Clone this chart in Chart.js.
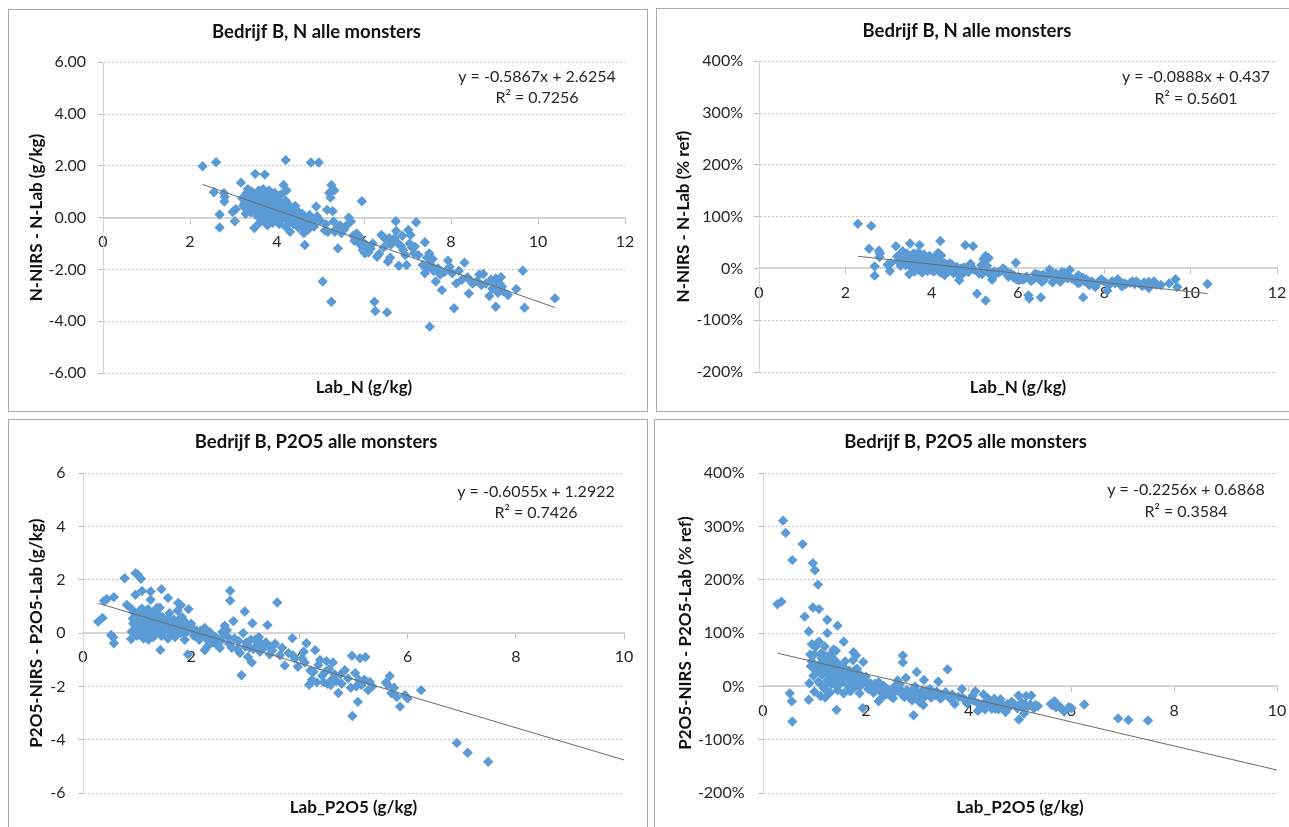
<!DOCTYPE html>
<html>
<head>
<meta charset="utf-8">
<title>Bedrijf B</title>
<script src="https://cdn.jsdelivr.net/npm/chart.js@4.4.1/dist/chart.umd.min.js"></script>
<style>
  html, body { margin: 0; padding: 0; background: #fff; width: 1289px; height: 827px; overflow: hidden; position: relative; }
  .frame { position: absolute; box-sizing: border-box; border: 1px solid #a9a9a9; }
  canvas { position: absolute; }
</style>
</head>
<body>
<div class="frame" style="left:8px;top:9px;width:640px;height:403px"></div>
<div class="frame" style="left:656px;top:8px;width:640px;height:404px"></div>
<div class="frame" style="left:8px;top:419px;width:640px;height:420px"></div>
<div class="frame" style="left:654px;top:419px;width:640px;height:420px"></div>
<canvas id="c1" width="639" height="401" style="left:8px;top:10px;width:639px;height:401px"></canvas>
<canvas id="c2" width="642" height="402" style="left:657px;top:9px;width:642px;height:402px"></canvas>
<canvas id="c3" width="638" height="408" style="left:8px;top:419px;width:638px;height:408px"></canvas>
<canvas id="c4" width="647" height="408" style="left:654px;top:419px;width:647px;height:408px"></canvas>
<script>
// ---------- DATA: N (Lab_N, g/kg) ----------
const labN = [
  2.29,2.60,2.55,2.68,2.68,2.78,2.79,2.80,2.98,3.03,
  3.05,3.17,3.20,3.25,3.27,3.30,3.33,3.35,3.38,3.40,
  3.42,3.45,3.48,3.50,3.50,3.52,3.55,3.55,3.58,3.60,
  3.60,3.62,3.65,3.65,3.68,3.70,3.72,3.72,3.75,3.75,
  3.78,3.78,3.80,3.82,3.85,3.85,3.88,3.90,3.90,3.92,
  3.95,3.95,3.98,4.00,4.00,4.03,4.05,4.05,4.08,4.10,
  4.12,4.15,4.15,4.18,4.20,4.20,4.20,4.22,4.25,4.28,
  4.30,4.30,4.33,4.35,4.38,4.40,4.42,4.45,4.48,4.50,
  4.52,4.55,4.58,4.60,4.62,4.64,4.65,4.68,4.70,4.72,
  4.75,4.78,4.80,4.85,4.90,4.92,4.96,4.98,5.05,5.10,
  5.15,5.17,5.20,5.23,5.25,5.25,5.28,5.30,5.32,5.35,
  5.40,5.45,5.55,5.65,5.70,5.75,5.83,5.88,5.95,5.92,
  5.97,6.02,6.05,6.15,6.24,6.26,6.30,6.35,6.40,6.45,
  6.50,6.53,6.55,6.58,6.60,6.73,6.74,6.78,6.80,6.85,
  6.90,6.98,7.02,7.07,7.10,7.17,7.15,7.20,7.40,7.45,
  7.50,7.52,7.35,7.40,7.45,7.51,7.55,7.60,7.65,7.70,
  7.79,7.85,7.93,7.97,8.03,8.07,8.12,8.25,8.31,8.38,
  8.41,8.50,8.60,8.70,8.74,8.80,8.88,8.92,8.95,9.03,
  9.03,9.08,9.12,9.17,9.20,9.31,9.50,9.65,9.69,10.39,
  3.22,3.28,3.36,3.44,3.46,3.53,3.57,3.63,3.67,3.71,
  3.74,3.77,3.81,3.84,3.87,3.93,3.96,4.02,4.06,4.09,
  4.13,4.17,4.24,4.27,4.32,4.37,4.41,4.46,4.51,4.57,
  4.63,4.67,4.73,4.83,4.88,5.12,5.33,5.48,5.60,5.78,
  5.90,6.00,6.10,6.20,6.45,6.62,6.70,6.88,6.95,7.05,
  7.25,7.58,7.75,8.18,8.45,8.65,9.00,9.15
];
// N-NIRS - N-Lab (g/kg)
const diffN = [
  1.98,2.14,0.98,0.12,-0.38,0.94,0.62,0.80,0.22,-0.14,
  0.32,1.35,0.75,0.55,0.40,0.95,1.10,0.85,0.70,0.20,
  1.00,0.50,-0.40,1.69,0.30,0.85,0.05,0.65,1.05,-0.20,
  0.40,0.90,0.15,0.60,1.10,-0.10,1.66,0.35,0.75,1.00,
  -0.30,0.20,0.55,1.05,0.00,0.40,0.80,-0.20,0.25,0.60,
  0.10,0.95,-0.10,0.35,0.70,0.05,-0.25,0.50,0.20,0.90,
  -0.05,1.26,0.40,0.10,2.22,-0.35,0.65,1.05,0.25,-0.15,
  0.45,-0.55,0.05,0.30,-0.25,0.10,0.45,-0.10,0.25,-0.40,
  0.05,-0.20,0.15,-0.05,-0.60,-1.06,-0.30,0.00,-0.20,-0.45,
  0.10,2.13,-0.15,-0.35,0.43,0.05,2.13,-0.10,-2.47,-0.50,
  0.30,-0.55,0.95,0.77,1.26,-3.25,0.25,-0.15,1.05,-0.45,
  -1.19,-0.30,-0.45,0.00,-0.15,-0.70,-0.61,-0.95,0.63,-1.05,
  -1.25,-1.38,-1.10,-1.20,-3.25,-3.61,-1.51,-1.40,-0.67,-0.75,
  -0.85,-3.66,-1.70,-0.80,-1.55,-0.14,-0.52,-0.99,-1.86,-1.10,
  -1.25,-1.83,-0.48,-0.67,-1.15,-1.12,-1.38,-0.18,-0.95,-1.55,
  -1.38,-1.65,-1.83,-2.15,-1.95,-4.21,-1.85,-2.05,-2.47,-1.95,
  -2.80,-2.10,-1.66,-1.90,-2.15,-3.50,-2.54,-2.40,-1.74,-2.30,
  -2.93,-2.55,-2.45,-2.60,-2.18,-2.55,-3.03,-2.40,-2.75,-2.35,
  -3.44,-2.90,-2.55,-2.67,-2.85,-2.99,-2.76,-2.05,-3.48,-3.12,
  0.45,0.15,0.60,0.30,0.80,0.45,0.25,0.75,0.45,0.05,
  0.55,0.90,0.30,0.65,0.15,0.40,0.75,0.20,0.85,-0.10,
  0.55,0.25,0.45,0.00,0.20,-0.10,0.30,0.05,-0.25,0.00,
  -0.20,-0.45,-0.10,-0.25,-0.05,-0.25,-0.55,-0.60,-0.30,-0.90,
  -0.75,-1.00,-1.35,-1.00,-1.15,-1.05,-0.80,-0.70,-1.45,-1.00,
  -1.45,-1.60,-2.20,-2.05,-2.45,-2.20,-2.65,-2.30
];
// N-NIRS - N-Lab (% ref), as fractions
const pctN = [
  0.86,0.82,0.38,0.04,-0.14,0.34,0.22,0.29,0.07,-0.05,
  0.10,0.43,0.23,0.17,0.12,0.29,0.33,0.25,0.21,0.06,
  0.29,0.14,-0.11,0.48,0.09,0.24,0.01,0.18,0.29,-0.06,
  0.11,0.25,0.04,0.16,0.30,-0.03,0.45,0.09,0.20,0.27,
  -0.08,0.05,0.14,0.27,0.00,0.10,0.21,-0.05,0.06,0.15,
  0.03,0.24,-0.03,0.09,0.18,0.01,-0.06,0.12,0.05,0.22,
  -0.01,0.30,0.10,0.02,0.53,-0.08,0.15,0.25,0.06,-0.04,
  0.10,-0.13,0.01,0.07,-0.06,0.02,0.10,-0.02,0.06,-0.09,
  0.01,-0.04,0.03,-0.01,-0.13,-0.23,-0.06,0.00,-0.04,-0.10,
  0.02,0.45,-0.03,-0.07,0.09,0.01,0.43,-0.02,-0.49,-0.10,
  0.06,-0.11,0.18,0.15,0.24,-0.62,0.05,-0.03,0.20,-0.08,
  -0.22,-0.06,-0.08,0.00,-0.03,-0.12,-0.10,-0.16,0.11,-0.18,
  -0.21,-0.23,-0.18,-0.20,-0.52,-0.58,-0.24,-0.22,-0.10,-0.12,
  -0.13,-0.56,-0.26,-0.12,-0.23,-0.02,-0.08,-0.15,-0.27,-0.16,
  -0.18,-0.26,-0.07,-0.09,-0.16,-0.16,-0.19,-0.03,-0.13,-0.21,
  -0.18,-0.22,-0.25,-0.29,-0.26,-0.56,-0.25,-0.27,-0.32,-0.25,
  -0.36,-0.27,-0.21,-0.24,-0.27,-0.43,-0.31,-0.29,-0.21,-0.27,
  -0.35,-0.30,-0.28,-0.30,-0.25,-0.29,-0.34,-0.27,-0.31,-0.26,
  -0.38,-0.32,-0.28,-0.29,-0.31,-0.32,-0.29,-0.21,-0.36,-0.30,
  0.14,0.05,0.18,0.09,0.23,0.13,0.07,0.21,0.12,0.01,
  0.15,0.24,0.08,0.17,0.04,0.10,0.19,0.05,0.21,-0.02,
  0.13,0.06,0.11,0.00,0.05,-0.02,0.07,0.01,-0.06,0.00,
  -0.04,-0.10,-0.02,-0.05,-0.01,-0.05,-0.10,-0.11,-0.05,-0.16,
  -0.13,-0.17,-0.22,-0.16,-0.18,-0.16,-0.12,-0.10,-0.21,-0.14,
  -0.20,-0.21,-0.28,-0.25,-0.29,-0.25,-0.29,-0.25
];

// ---------- DATA: P2O5 (Lab_P2O5, g/kg) ----------
const labP = [
  0.28,0.36,0.39,0.44,0.57,0.52,0.56,0.57,0.77,0.97,
  1.01,1.07,0.81,0.89,0.97,1.09,1.25,1.45,1.25,1.09,
  1.57,1.37,0.93,1.81,1.76,0.89,1.43,1.21,1.94,0.95,
  0.90,0.95,1.00,1.00,1.03,1.05,1.08,1.10,1.12,1.13,
  1.15,1.18,1.20,1.20,1.23,1.25,1.27,1.30,1.30,1.32,
  1.35,1.37,1.40,1.40,1.42,1.45,1.47,1.50,1.52,1.55,
  1.57,1.60,1.62,1.65,1.68,1.70,1.72,1.75,1.78,1.80,
  1.83,1.85,1.88,1.90,1.92,1.95,1.98,2.05,2.10,2.15,
  2.20,2.25,2.29,2.25,2.30,2.40,2.45,2.53,2.55,2.60,
  2.66,2.70,2.72,2.72,2.78,2.80,2.85,2.90,2.93,2.96,
  2.99,3.02,3.05,3.08,3.12,3.13,3.18,3.22,3.27,3.30,
  3.35,3.41,3.46,3.50,3.59,3.64,3.73,3.80,3.87,3.88,
  3.97,4.05,4.13,4.18,4.20,4.23,4.29,4.35,4.38,4.42,
  4.45,4.50,4.55,4.60,4.65,4.72,4.78,4.84,4.90,4.97,
  4.98,5.03,5.08,5.12,5.15,5.20,5.27,5.30,5.63,5.67,
  5.70,5.75,5.86,5.95,6.00,6.25,6.91,7.11,7.49,
  2.03,2.35,2.62,3.15,3.55,4.08,4.52,4.62,5.05,5.22,
  0.92,0.98,1.02,1.06,1.11,1.14,1.17,1.19,1.22,1.24,
  1.28,1.31,1.33,1.36,1.39,1.41,1.44,1.48,1.51,1.54,
  1.58,1.61,1.64,1.67,1.71,1.74,1.79,1.82,1.87,1.93,
  2.00,2.08,2.18,2.32,2.48,2.58,2.68,2.75,2.88,3.00,
  3.10,3.25,3.38,3.45,3.68,3.92,4.10,4.26,4.32,4.48,
  4.58,4.68,4.76,4.95,5.10,5.35,5.60,5.80
];
// P2O5-NIRS - P2O5-Lab (g/kg)
const diffP = [
  0.43,0.57,1.21,1.27,1.35,-0.07,-0.16,-0.38,2.06,2.25,
  2.20,2.04,1.06,0.92,1.44,1.58,1.56,1.65,1.25,0.92,
  1.32,0.95,0.35,1.05,1.13,-0.22,-0.63,-0.25,-0.80,0.75,
  0.05,0.45,-0.10,0.60,0.30,0.85,0.10,0.45,-0.20,0.70,
  0.25,0.55,0.00,0.90,0.35,0.15,0.65,-0.15,0.45,0.80,
  0.20,0.55,0.05,0.35,0.95,-0.10,0.60,0.25,0.10,0.45,
  -0.20,0.75,0.30,0.05,0.50,-0.15,0.20,0.85,0.35,0.00,
  0.60,0.15,-0.25,0.40,0.05,0.90,0.25,-0.10,0.10,-0.25,
  -0.05,0.19,-0.19,-0.64,-0.50,-0.35,-0.15,-0.56,-0.30,-0.05,
  0.11,-0.40,1.59,1.22,0.45,-0.20,-0.60,-0.75,-1.58,0.00,
  0.81,-0.35,-0.90,-0.55,-1.10,0.37,-0.25,-0.45,-0.70,-0.40,
  -0.55,0.30,-0.51,-0.65,1.15,-0.83,-1.22,-0.75,-0.19,-0.83,
  -1.26,-0.95,-0.38,-1.94,-1.40,-1.75,-0.64,-1.20,-1.01,-1.60,
  -1.85,-1.05,-1.35,-1.75,-1.55,-2.25,-1.90,-1.39,-1.70,-0.85,
  -3.11,-1.50,-2.58,-0.94,-1.95,-1.75,-2.14,-1.83,-1.95,-1.61,
  -2.25,-2.05,-2.76,-2.33,-2.45,-2.14,-4.12,-4.49,-4.83,
  0.15,0.02,0.28,-0.60,-0.40,-0.70,-1.90,-1.10,-2.00,-0.90,
  0.55,0.20,0.75,0.40,0.05,0.60,0.35,-0.05,0.70,0.45,
  0.25,0.60,0.05,0.40,0.70,0.20,0.45,0.05,0.40,0.20,
  0.55,0.10,0.35,-0.05,0.40,0.15,0.55,0.25,0.00,0.20,
  0.35,-0.05,0.10,-0.30,-0.45,0.05,-0.15,-0.55,-0.30,-0.50,
  -0.25,-0.15,-0.35,-0.80,-0.55,-0.95,-1.10,-1.45,-1.85,-1.45,
  -1.95,-1.80,-1.55,-2.05,-1.75,-2.00,-1.85,-2.40
];
// P2O5-NIRS - P2O5-Lab (% ref), as fractions
const pctP = [
  1.54,1.59,3.11,2.88,2.37,-0.13,-0.28,-0.66,2.67,2.31,
  2.18,1.91,1.31,1.03,1.48,1.45,1.25,1.14,1.00,0.84,
  0.84,0.69,0.38,0.58,0.64,-0.25,-0.44,-0.21,-0.41,0.79,
  0.06,0.47,-0.10,0.60,0.29,0.81,0.09,0.41,-0.18,0.62,
  0.22,0.47,0.00,0.75,0.28,0.12,0.51,-0.12,0.35,0.61,
  0.15,0.40,0.04,0.25,0.67,-0.07,0.41,0.17,0.07,0.29,
  -0.13,0.47,0.19,0.03,0.30,-0.09,0.12,0.49,0.20,0.00,
  0.33,0.08,-0.13,0.21,0.03,0.46,0.13,-0.05,0.05,-0.12,
  -0.02,0.08,-0.08,-0.28,-0.22,-0.15,-0.06,-0.22,-0.12,-0.02,
  0.04,-0.15,0.58,0.45,0.16,-0.07,-0.21,-0.26,-0.54,0.00,
  0.27,-0.12,-0.30,-0.18,-0.35,0.12,-0.08,-0.14,-0.21,-0.12,
  -0.16,0.09,-0.15,-0.19,0.32,-0.23,-0.33,-0.20,-0.05,-0.21,
  -0.32,-0.23,-0.09,-0.46,-0.33,-0.41,-0.15,-0.28,-0.23,-0.36,
  -0.42,-0.23,-0.30,-0.38,-0.33,-0.48,-0.40,-0.29,-0.35,-0.17,
  -0.62,-0.30,-0.51,-0.18,-0.38,-0.34,-0.41,-0.35,-0.35,-0.28,
  -0.39,-0.36,-0.47,-0.39,-0.41,-0.34,-0.60,-0.63,-0.64,
  0.07,0.01,0.11,-0.19,-0.11,-0.17,-0.42,-0.24,-0.40,-0.17,
  0.60,0.20,0.74,0.38,0.05,0.53,0.30,-0.04,0.57,0.36,
  0.20,0.46,0.04,0.29,0.50,0.14,0.31,0.03,0.26,0.13,
  0.35,0.06,0.21,-0.03,0.23,0.09,0.31,0.14,0.00,0.10,
  0.18,-0.02,0.05,-0.13,-0.18,0.02,-0.06,-0.20,-0.10,-0.17,
  -0.08,-0.05,-0.10,-0.23,-0.15,-0.24,-0.27,-0.34,-0.43,-0.32,
  -0.43,-0.38,-0.33,-0.41,-0.34,-0.37,-0.33,-0.41
];

// ---------- Trendline end points (linear fits as shown) ----------
const trendNx = [2.29, 10.39];
const trendNy = [1.28, -3.47];
const trendNpct = [0.234, -0.486];
const trendPx = [0.28, 10];
const trendPy = [1.12, -4.76];
const trendPpct = [0.624, -1.569];

// ---------- Axis ticks ----------
const xTicksN = [0, 2, 4, 6, 8, 10, 12];
const xTicksP = [0, 2, 4, 6, 8, 10];
const yTicksNabs = [-6, -4, -2, 0, 2, 4, 6];
const yTicksPabs = [-6, -4, -2, 0, 2, 4, 6];
const yTicksPct = [-2, -1, 0, 1, 2, 3, 4];

// ---------- Texts ----------
const titleN = 'Bedrijf B, N alle monsters';
const titleP = 'Bedrijf B, P2O5 alle monsters';
const eqN1 = ['y = -0.5867x + 2.6254', 'R\u00B2 = 0.7256'];
const eqN2 = ['y = -0.0888x + 0.437', 'R\u00B2 = 0.5601'];
const eqP1 = ['y = -0.6055x + 1.2922', 'R\u00B2 = 0.7426'];
const eqP2 = ['y = -0.2256x + 0.6868', 'R\u00B2 = 0.3584'];

Chart.defaults.font.family = "Lato, 'Open Sans', 'Liberation Sans', sans-serif";
Chart.defaults.color = '#333333';

function pts(xs, ys) {
  const n = Math.min(xs.length, ys.length);
  const out = [];
  for (let i = 0; i < n; i++) out.push({ x: xs[i], y: ys[i] });
  return out;
}

function eqPlugin(lines, x, ys) {
  return {
    id: 'eqText',
    afterDraw(chart) {
      const ctx = chart.ctx;
      ctx.save();
      ctx.font = "16px Lato, 'Open Sans', sans-serif";
      ctx.fillStyle = '#262626';
      ctx.textAlign = 'center';
      ctx.textBaseline = 'middle';
      lines.forEach((t, i) => ctx.fillText(t, x, ys[i]));
      ctx.restore();
    }
  };
}

function makeChart(id, c) {
  const xt = c.xTicks, yt = c.yTicks;
  new Chart(document.getElementById(id), {
    type: 'scatter',
    data: {
      datasets: [
        {
          data: pts(c.x, c.y),
          pointStyle: 'rectRot',
          pointRadius: 5.2,
          pointHoverRadius: 5.2,
          backgroundColor: '#5b9bd5',
          borderColor: '#5b9bd5',
          borderWidth: 0,
          order: 1
        },
        {
          data: pts(c.tx, c.ty),
          showLine: true,
          borderColor: '#6b6b6b',
          borderWidth: 1,
          pointRadius: 0,
          pointHoverRadius: 0,
          fill: false,
          order: 0
        }
      ]
    },
    options: {
      responsive: false,
      animation: false,
      events: [],
      layout: { padding: { left: 0, right: c.right, top: 0, bottom: 0 } },
      plugins: {
        legend: { display: false },
        tooltip: { enabled: false },
        title: {
          display: true, text: c.title, color: '#111111',
          font: { size: 18.5, weight: 'bold' },
          padding: { top: c.tpt, bottom: c.tpb }
        }
      },
      scales: {
        x: {
          type: 'linear', position: { y: 0 },
          min: xt[0], max: xt[xt.length - 1],
          ticks: { stepSize: xt[1] - xt[0], color: '#262626', font: { size: 16 }, padding: 9.5, maxRotation: 0 },
          grid: { display: true, drawOnChartArea: false, drawTicks: true, tickLength: 5, tickColor: '#c0c0c0', tickBorderDash: [] },
          border: { display: true, color: '#d4d4d4', width: 2 },
          afterFit: s => { s.height = 0; }
        },
        x2: {
          type: 'linear', axis: 'x', position: 'bottom', min: 0, max: 1,
          ticks: { display: false },
          grid: { display: false, drawTicks: false },
          border: { display: false },
          title: {
            display: true, text: c.xTitle, color: '#111111',
            font: { size: 17, weight: 'bold' },
            padding: { top: 0, bottom: c.xtpb }
          },
          afterFit: s => { s.height = c.bottom; }
        },
        y: {
          type: 'linear', position: 'left',
          min: yt[0], max: yt[yt.length - 1],
          ticks: { stepSize: yt[1] - yt[0], callback: c.fmt, color: '#262626', font: { size: 16 }, padding: c.ytp },
          grid: { color: '#c4c4c4', lineWidth: 1, drawTicks: true, tickLength: 5, tickColor: '#c0c0c0', tickBorderDash: [], borderDash: [2, 2] },
          border: { display: true, color: '#d4d4d4', width: 1, dash: [2, 2] },
          title: {
            display: true, text: c.yTitle, color: '#111111',
            font: { size: 17, weight: 'bold' },
            padding: { top: c.ytt, bottom: 0 }
          },
          afterFit: s => { s.width = c.left; }
        }
      }
    },
    plugins: [eqPlugin(c.eq, c.eqX, c.eqY)]
  });
}

const fmt2 = v => v.toFixed(2);
const fmtInt = v => String(v);
const fmtPct = v => Math.round(v * 100) + '%';

makeChart('c1', {
  x: labN, y: diffN, tx: trendNx, ty: trendNy,
  xTicks: xTicksN, yTicks: yTicksNabs, fmt: fmt2,
  title: titleN, xTitle: 'Lab_N (g/kg)', yTitle: 'N-NIRS - N-Lab (g/kg)',
  left: 95, right: 22, tpt: 11, tpb: 19, bottom: 38, xtpb: 12.8, ytt: 18.3, ytp: 12,
  eq: eqN1, eqX: 529, eqY: [67, 88]
});
makeChart('c2', {
  x: labN, y: pctN, tx: trendNx, ty: trendNpct,
  xTicks: xTicksN, yTicks: yTicksPct, fmt: fmtPct,
  title: titleN, xTitle: 'Lab_N (g/kg)', yTitle: 'N-NIRS - N-Lab (% ref)',
  left: 102, right: 22, tpt: 11, tpb: 19, bottom: 39, xtpb: 12.8, ytt: 16.8, ytp: 11,
  eq: eqN2, eqX: 539, eqY: [68, 90]
});
makeChart('c3', {
  x: labP, y: diffP, tx: trendPx, ty: trendPy,
  xTicks: xTicksP, yTicks: yTicksPabs, fmt: fmtInt,
  title: titleP, xTitle: 'Lab_P2O5 (g/kg)', yTitle: 'P2O5-NIRS - P2O5-Lab (g/kg)',
  left: 75, right: 22, tpt: 11.7, tpb: 20.3, bottom: 34, xtpb: 8.8, ytt: 18.8, ytp: 12.5,
  eq: eqP1, eqX: 528, eqY: [73, 94]
});
makeChart('c4', {
  x: labP, y: pctP, tx: trendPx, ty: trendPpct,
  xTicks: xTicksP, yTicks: yTicksPct, fmt: fmtPct,
  title: titleP, xTitle: 'Lab_P2O5 (g/kg)', yTitle: 'P2O5-NIRS - P2O5-Lab (% ref)',
  left: 109, right: 24, tpt: 11.7, tpb: 20.3, bottom: 34, xtpb: 8.8, ytt: 21.2, ytp: 13.5,
  eq: eqP2, eqX: 532, eqY: [71, 93]
});
</script>
</body>
</html>
